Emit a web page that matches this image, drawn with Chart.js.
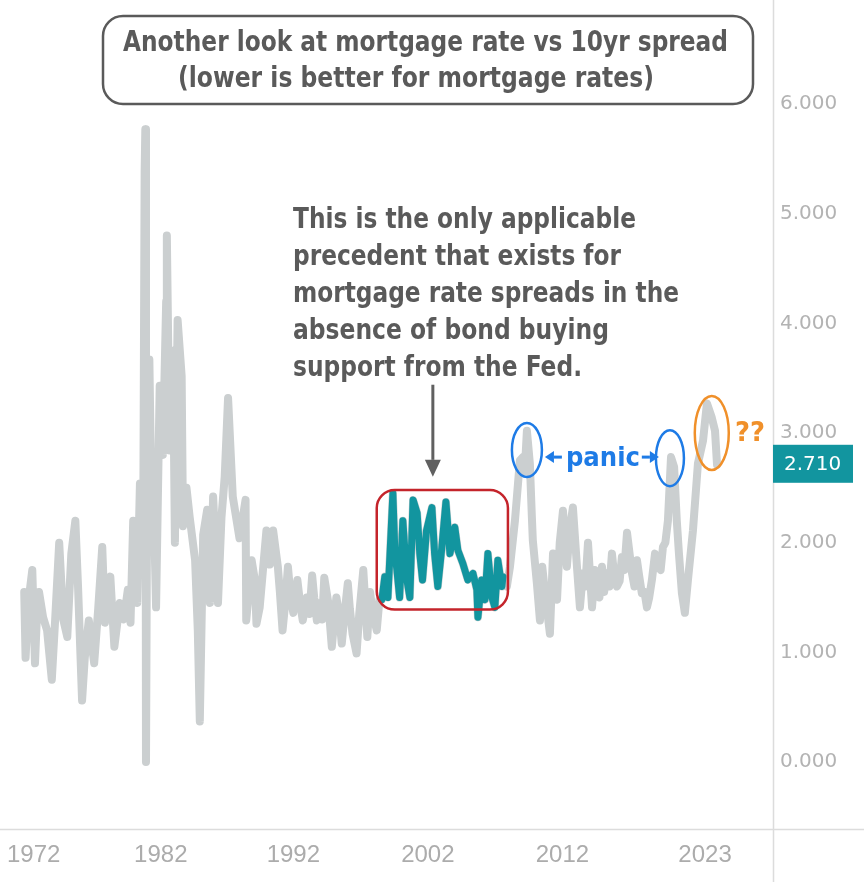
<!DOCTYPE html>
<html>
<head>
<meta charset="utf-8">
<script src="https://cdn.jsdelivr.net/npm/chart.js@4.4.1/dist/chart.umd.min.js"></script>
<style>
    html, body { margin: 0; padding: 0; background: #fff; }
    #caixa { width: 864px; height: 882px; }
</style>
</head>
<body>
<div id="caixa"><canvas id="graficoSpread"></canvas></div>
<script>
// mortgage rate minus 10yr yield
const years = [
    1972.0, 1972.1, 1972.3, 1972.6, 1972.8, 1972.95, 1973.1, 1973.4, 1973.7, 1974.05, 1974.3, 1974.6, 1974.9, 1975.2, 1975.5, 1975.8,
    1976.0, 1976.3, 1976.5, 1976.8, 1977.2, 1977.5, 1977.8, 1978.0, 1978.2, 1978.4, 1978.7, 1979.1, 1979.4, 1979.7, 1979.9,
    1980.1, 1980.4, 1980.6, 1980.85, 1980.95, 1981.0, 1981.05, 1981.15, 1981.3, 1981.45, 1981.55, 1981.8, 1982.07, 1982.3, 1982.55,
    1982.6, 1982.8, 1983.06, 1983.2, 1983.4, 1983.7, 1983.8, 1984.06, 1984.3, 1984.7, 1984.9, 1985.05, 1985.3, 1985.6, 1985.8,
    1986.04, 1986.4, 1986.66, 1986.9, 1987.15, 1987.5, 1988.0, 1988.45, 1988.5, 1988.9, 1989.14, 1989.26, 1989.5,
    1990.0, 1990.25, 1990.5, 1990.85, 1991.0, 1991.2, 1991.4, 1991.6, 1991.8, 1992.0, 1992.3, 1992.5, 1992.7, 1993.0, 1993.2,
    1993.4, 1993.55, 1993.75, 1994.0, 1994.15, 1994.3, 1994.6, 1994.86, 1995.2, 1995.4, 1995.6, 1995.85, 1996.05, 1996.2, 1996.4,
    1996.7, 1996.9, 1997.2, 1997.5, 1997.7, 1997.9, 1998.2, 1998.4,
    1998.58, 1998.8, 1999.03, 1999.4, 1999.55, 1999.7, 1999.9, 2000.14, 2000.44, 2000.66, 2000.9, 2001.2, 2001.4, 2001.6, 2001.9,
    2002.3, 2002.5, 2002.74, 2003.04, 2003.34, 2003.64, 2004.0, 2004.23, 2004.6, 2004.97, 2005.35, 2005.64, 2005.72, 2006.0, 2006.24,
    2006.46, 2006.76, 2006.98, 2007.2, 2007.5, 2007.58,
    2007.87, 2008.1, 2008.47, 2008.7, 2008.84, 2009.06, 2009.2, 2009.36, 2009.58, 2009.73, 2009.8, 2010.1, 2010.33, 2010.5, 2010.7,
    2011.07, 2011.3, 2011.6, 2011.8, 2012.04, 2012.33, 2012.56, 2012.78, 2013.08, 2013.3, 2013.52, 2013.7, 2013.9,
    2014.2, 2014.4, 2014.57, 2014.75, 2014.94, 2015.1, 2015.3, 2015.5, 2015.68, 2015.85, 2016.05, 2016.25, 2016.42, 2016.6, 2016.8,
    2017.17, 2017.35, 2017.54, 2017.7, 2017.9, 2018.1, 2018.28, 2018.45, 2018.65, 2018.88, 2019.1, 2019.3, 2019.47, 2019.65, 2019.84,
    2020.07, 2020.3, 2020.5, 2020.66, 2020.88, 2021.1, 2021.33, 2021.7, 2022.07, 2022.45, 2022.74, 2023.1, 2023.34, 2023.49
];
const spread = [
    1.55, 0.95, 1.45, 1.75, 0.9, 1.35, 1.55, 1.32, 1.2, 0.75, 1.3, 2.0, 1.3, 1.14, 1.9, 2.2,
    1.6, 0.56, 0.95, 1.29, 0.9, 1.4, 1.96, 1.27, 1.5, 1.69, 1.05, 1.45, 1.3, 1.57, 1.27,
    2.2, 1.45, 2.54, 2.3, 5.38, 5.77, 0.0, 2.9, 3.67, 2.42, 2.73, 1.41, 3.43, 2.8, 4.2,
    4.8, 2.84, 3.75, 2.0, 4.03, 3.52, 2.15, 2.5, 2.23, 1.84, 1.2, 0.37, 2.07, 2.3, 1.45,
    2.42, 1.45, 2.23, 2.6, 3.32, 2.42, 2.04, 2.39, 1.29, 1.84, 1.66, 1.26, 1.41,
    2.11, 1.8, 2.11, 1.78, 1.55, 1.2, 1.45, 1.78, 1.5, 1.36, 1.66, 1.45, 1.29, 1.5, 1.35,
    1.7, 1.5, 1.29, 1.45, 1.3, 1.68, 1.45, 1.05, 1.5, 1.35, 1.08, 1.4, 1.63, 1.4, 1.17,
    0.99, 1.35, 1.75, 1.14, 1.55, 1.36, 1.2, 1.48,
    1.48, 1.69, 1.5, 2.45, 1.9, 1.75, 1.5, 2.2, 1.66, 1.5, 2.39, 2.27, 1.9, 1.66, 2.11,
    2.32, 1.9, 1.6, 1.96, 2.37, 1.9, 2.14, 1.93, 1.81, 1.66, 1.72, 1.57, 1.32, 1.66, 1.48,
    1.9, 1.5, 1.41, 1.84, 1.6, 1.69,
    1.6, 1.78, 2.2, 2.54, 2.75, 2.78, 2.65, 3.02, 2.72, 2.23, 2.02, 1.63, 1.29, 1.78, 1.55,
    1.17, 1.9, 1.48, 2.0, 2.29, 1.78, 2.14, 2.32, 1.78, 1.41, 1.72, 1.6, 2.0,
    1.41, 1.75, 1.6, 1.5, 1.78, 1.55, 1.72, 1.6, 1.9, 1.7, 1.6, 1.65, 1.87, 1.75, 2.09,
    1.72, 1.6, 1.84, 1.7, 1.54, 1.55, 1.41, 1.5, 1.66, 1.9, 1.78, 1.75, 1.96, 2.0, 2.2,
    2.78, 2.69, 2.2, 1.9, 1.54, 1.36, 1.66, 2.11, 2.72, 2.93, 3.27, 3.14, 3.02, 2.71
];
const highlightFrom = 1998.5;
const highlightTo = 2007.6;
// where the source chart puts its year labels, and what they say
const xTickPos = [1972.7, 1982.15, 1992, 2002, 2012, 2022.6];
const xTickLabels = ['1972', '1982', '1992', '2002', '2012', '2023'];
const yTicks = [0, 1, 2, 3, 4, 5, 6];
const lastValue = 2.71;

const corCinza = '#cbcfd0';
const corTeal = '#12959f';
const fonteTexto = '"DejaVu Sans Condensed", "DejaVu Sans", sans-serif';

const pontos = years.map((ano, i) => ({ x: ano, y: spread[i] }));
const pontosTeal = pontos.filter(p => p.x >= highlightFrom && p.x <= highlightTo);

function textoLargura(ctx, txt, x, y, largura) {
    const w = ctx.measureText(txt).width;
    ctx.save();
    ctx.translate(x, y);
    ctx.scale(largura / w, 1);
    ctx.fillText(txt, 0, 0);
    ctx.restore();
}

function seta(ctx, x1, y1, x2, y2, cabeca, larg) {
    const ang = Math.atan2(y2 - y1, x2 - x1);
    const bx = x2 - Math.cos(ang) * cabeca, by = y2 - Math.sin(ang) * cabeca;
    ctx.beginPath();
    ctx.moveTo(x1, y1);
    ctx.lineTo(bx, by);
    ctx.stroke();
    ctx.beginPath();
    ctx.moveTo(x2, y2);
    ctx.lineTo(bx + Math.sin(ang) * larg, by - Math.cos(ang) * larg);
    ctx.lineTo(bx - Math.sin(ang) * larg, by + Math.cos(ang) * larg);
    ctx.closePath();
    ctx.fill();
}

const notas = {
    id: 'notas',
    afterDraw(chart) {
        const ctx = chart.ctx;
        const area = chart.chartArea;
        const px = v => chart.scales.x.getPixelForValue(v);
        const py = v => chart.scales.y.getPixelForValue(v);
        ctx.save();

        // eixos
        ctx.strokeStyle = '#dcdcdc';
        ctx.lineWidth = 1.5;
        ctx.beginPath();
        ctx.moveTo(0, area.bottom + 0.5);
        ctx.lineTo(chart.width, area.bottom + 0.5);
        ctx.moveTo(area.right + 0.5, 0);
        ctx.lineTo(area.right + 0.5, chart.height);
        ctx.stroke();

        // ultimo valor
        const yv = py(lastValue);
        ctx.fillStyle = corTeal;
        ctx.fillRect(area.right, yv - 20, 80, 38);
        ctx.fillStyle = '#ffffff';
        ctx.font = '20px "DejaVu Sans"';
        ctx.textBaseline = 'middle';
        ctx.textAlign = 'left';
        ctx.fillText(lastValue.toFixed(3), area.right + 11, yv);

        // caixa do titulo
        ctx.beginPath();
        ctx.roundRect(103, 16, 650, 88, 20);
        ctx.fillStyle = '#ffffff';
        ctx.fill();
        ctx.lineWidth = 2.5;
        ctx.strokeStyle = '#5a5a5a';
        ctx.stroke();

        ctx.fillStyle = '#5a5a5a';
        ctx.textBaseline = 'alphabetic';
        ctx.font = 'bold 29px ' + fonteTexto;
        textoLargura(ctx, 'Another look at mortgage rate vs 10yr spread', 123, 51, 605);
        textoLargura(ctx, '(lower is better for mortgage rates)', 178, 87, 476);

        // texto da nota
        ctx.font = 'bold 28px ' + fonteTexto;
        const linhas = [
            ['This is the only applicable', 343],
            ['precedent that exists for', 328],
            ['mortgage rate spreads in the', 386],
            ['absence of bond buying', 316],
            ['support from the Fed.', 289]
        ];
        linhas.forEach((l, i) => textoLargura(ctx, l[0], 293, 228 + i * 37, l[1]));

        // seta para baixo
        ctx.strokeStyle = '#606060';
        ctx.fillStyle = '#606060';
        ctx.lineWidth = 3;
        seta(ctx, px(2002.37), py(3.44), px(2002.37), py(2.6), 17, 8);

        // caixa vermelha
        ctx.beginPath();
        const x0 = px(1998.2), x1 = px(2007.95), y0 = py(2.48), y1 = py(1.39);
        ctx.roundRect(x0, y0, x1 - x0, y1 - y0, 18);
        ctx.strokeStyle = '#c4242b';
        ctx.lineWidth = 2.5;
        ctx.stroke();

        // elipses
        const elipse = (ano, val, rx, ry, cor) => {
            ctx.beginPath();
            ctx.ellipse(px(ano), py(val), rx, ry, 0, 0, Math.PI * 2);
            ctx.strokeStyle = cor;
            ctx.lineWidth = 2.5;
            ctx.stroke();
        };
        elipse(2009.36, 2.845, 15, 27, '#1e7be6');
        elipse(2019.99, 2.77, 14, 28, '#1e7be6');
        elipse(2023.1, 3.0, 17, 37, '#f0902a');

        // panic
        ctx.fillStyle = '#1e7be6';
        ctx.strokeStyle = '#1e7be6';
        ctx.font = 'bold 27px ' + fonteTexto;
        textoLargura(ctx, 'panic', px(2012.26), py(2.70), 74);
        ctx.lineWidth = 3;
        seta(ctx, px(2011.96), py(2.78), px(2010.7), py(2.78), 9, 6);
        seta(ctx, px(2017.9), py(2.78), px(2019.17), py(2.78), 9, 6);

        ctx.fillStyle = '#f0902a';
        ctx.font = 'bold 26px ' + fonteTexto;
        textoLargura(ctx, '??', px(2024.83), py(2.93), 30);

        ctx.restore();
    }
};

function semPadding(s) {
    s.paddingTop = 0;
    s.paddingBottom = 0;
    s.paddingLeft = 0;
    s.paddingRight = 0;
}

new Chart(document.getElementById('graficoSpread').getContext('2d'), {
    type: 'line',
    data: {
        datasets: [
            {
                label: 'Spread',
                data: pontos,
                order: 2,
                borderColor: corCinza,
                borderWidth: 8,
                pointRadius: 0,
                tension: 0,
                borderJoinStyle: 'round',
                borderCapStyle: 'round'
            },
            {
                label: 'Precedent',
                data: pontosTeal,
                order: 1,
                borderColor: corTeal,
                borderWidth: 7,
                pointRadius: 0,
                tension: 0,
                borderJoinStyle: 'round',
                borderCapStyle: 'round'
            }
        ]
    },
    options: {
        responsive: true,
        maintainAspectRatio: false,
        animation: false,
        layout: { padding: 0 },
        plugins: {
            legend: { display: false },
            tooltip: { enabled: false }
        },
        scales: {
            x: {
                type: 'linear',
                min: 1970.2,
                max: 2027.65,
                grid: { display: false, drawTicks: false },
                border: { display: false },
                afterBuildTicks: s => { s.ticks = xTickPos.map(v => ({ value: v })); },
                afterFit: s => { s.height = 53; semPadding(s); },
                ticks: {
                    padding: 12,
                    color: '#acacac',
                    maxRotation: 0,
                    autoSkip: false,
                    font: { family: '"Liberation Sans Narrow", "Liberation Sans"', size: 24 },
                    callback: (v, i) => xTickLabels[i]
                }
            },
            y: {
                position: 'right',
                min: -0.611,
                max: 6.948,
                grid: { display: false, drawTicks: false },
                border: { display: false },
                afterBuildTicks: s => { s.ticks = yTicks.map(v => ({ value: v })); },
                afterFit: s => { s.width = 91; semPadding(s); },
                ticks: {
                    padding: 7,
                    color: '#b3b3b3',
                    font: { family: '"DejaVu Sans"', size: 20 },
                    callback: v => v.toFixed(3)
                }
            }
        }
    },
    plugins: [notas]
});
</script>
</body>
</html>
